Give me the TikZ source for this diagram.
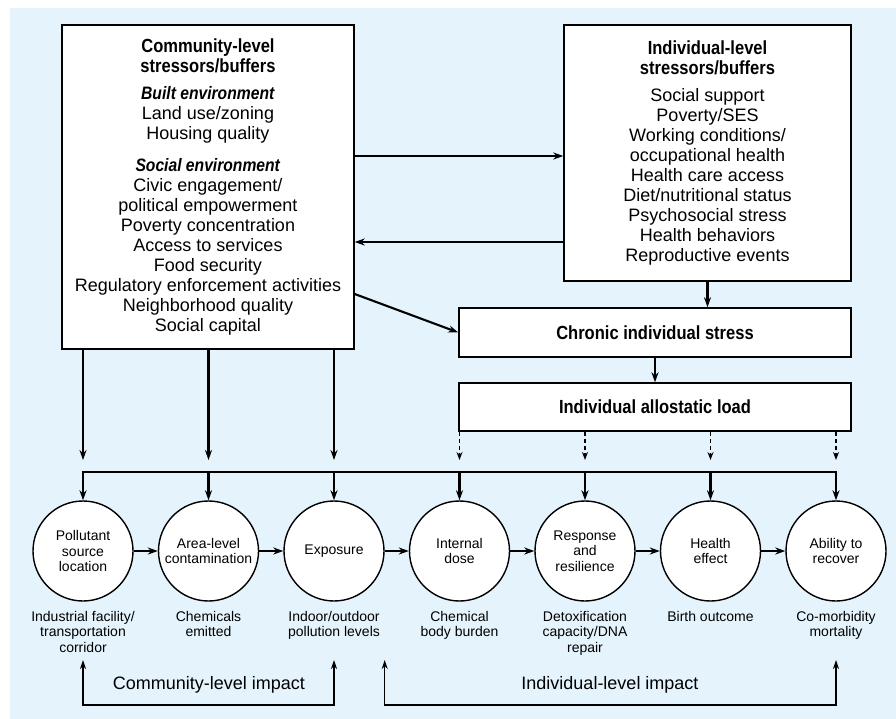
\documentclass[tikz,border=0pt]{standalone}
\usepackage{fontspec}
\setmainfont{Liberation Sans}[BoldFeatures={FakeStretch=0.87},BoldItalicFeatures={FakeStretch=0.87}]
\usetikzlibrary{arrows.meta}
\definecolor{bgblue}{RGB}{229,244,252}
\begin{document}
\begin{tikzpicture}[x=1pt,y=-1pt,
    box/.style={draw=black,line width=1.4pt,fill=white,inner sep=0pt,align=center,font=\fontsize{18}{20}\selectfont},
    stage/.style={shape=circle,draw=black,line width=1.4pt,fill=white,minimum size=100pt,inner sep=0pt,align=center,font=\fontsize{14}{15.5}\selectfont},
    note/.style={anchor=north,inner sep=0pt,align=center,font=\fontsize{14}{15.5}\selectfont},
    arr/.style={line width=2.1pt,-{Stealth[length=10pt,width=7pt]}},
    dasharr/.style={line width=1.3pt,dash pattern=on 4pt off 3pt,-{Stealth[length=8pt,width=6pt]}},
    impact/.style={line width=1.4pt,{Stealth[length=9pt,width=6pt]}-{Stealth[length=9pt,width=6pt]}}]
    \useasboundingbox (0,0) rectangle (896,719);
    \fill[bgblue] (10,8) rectangle (896,719);

    \node[box,minimum width=292pt,minimum height=324pt] (comm) at (208,187)
        {{\fontsize{19}{20}\selectfont\bfseries Community-level}\\
         {\fontsize{19}{20}\selectfont\bfseries stressors/buffers}\\[7pt]
         \textbf{\textit{Built environment}}\\
         Land use/zoning\\
         Housing quality\\[12pt]
         \textbf{\textit{Social environment}}\\
         Civic engagement/\\
         political empowerment\\
         Poverty concentration\\
         Access to services\\
         Food security\\
         Regulatory enforcement activities\\
         Neighborhood quality\\
         Social capital};
    \node[box,minimum width=287pt,minimum height=256pt] (indiv) at (707.5,153)
        {{\fontsize{19}{20}\selectfont\bfseries Individual-level}\\
         {\fontsize{19}{20}\selectfont\bfseries stressors/buffers}\\[7pt]
         Social support\\
         Poverty/SES\\
         Working conditions/\\
         occupational health\\
         Health care access\\
         Diet/nutritional status\\
         Psychosocial stress\\
         Health behaviors\\
         Reproductive events};
    \node[box,minimum width=392pt,minimum height=49pt,font=\fontsize{19}{20}\selectfont\bfseries] (chronic) at (655,332.5) {Chronic individual stress};
    \node[box,minimum width=392pt,minimum height=48pt,font=\fontsize{19}{20}\selectfont\bfseries] (allo) at (655,407) {Individual allostatic load};

    \foreach \i/\t/\l in {1/{Pollutant\\source\\location}/{Industrial facility/\\transportation\\corridor},
                          2/{Area-level\\contamination}/{Chemicals\\emitted},
                          3/{Exposure}/{Indoor/outdoor\\pollution levels},
                          4/{Internal\\dose}/{Chemical\\body burden},
                          5/{Response\\and\\resilience}/{Detoxification\\capacity/DNA\\repair},
                          6/{Health\\effect}/{Birth outcome},
                          7/{Ability to\\recover}/{Co-morbidity\\mortality}}
        {\node[stage] (c\i) at (83+125.5*\i-125.5,551) {\t};
        \node[note] (l\i) at (83+125.5*\i-125.5,611) {\l};}

    \draw[arr] (comm.east |- 0,156) -- (indiv.west |- 0,156);
    \draw[arr] (indiv.west |- 0,242) -- (comm.east |- 0,242);
    \draw[arr] (comm.east |- 0,294) -- (chronic.west);
    \draw[arr] (indiv.south) -- (indiv.south |- chronic.north);
    \draw[arr] (chronic.south) -- (allo.north);

    \foreach \i in {1,2,3}
        \draw[arr] (c\i.north |- comm.south) -- (c\i.north |- 0,460);
    \foreach \i in {4,...,7}
        \draw[dasharr] (c\i.north |- allo.south) -- (c\i.north |- 0,460);

    \draw[line width=2.3pt,{Stealth[length=10pt,width=7pt]}-{Stealth[length=10pt,width=7pt]}]
        (c1.north) |- (c7.north |- 0,472) -- (c7.north);
    \foreach \i in {2,...,6}
        \draw[arr] (c\i.north |- 0,472) -- (c\i.north);
    \foreach \i [count=\j from 2] in {1,...,6}
        \draw[arr] (c\i) -- (c\j);

    \draw[impact] (c1.south |- 0,660) -- (c1.south |- 0,705) -| (c3.south |- 0,660);
    \draw[impact] (c3.east |- 0,660) -- (c3.east |- 0,705) -| (c7.south |- 0,660);
    \node[font=\fontsize{18}{20}\selectfont] (cimpact) at (209,685) {Community-level impact};
    \node[font=\fontsize{18}{20}\selectfont] (iimpact) at (610,685) {Individual-level impact};
\end{tikzpicture}
\end{document}
